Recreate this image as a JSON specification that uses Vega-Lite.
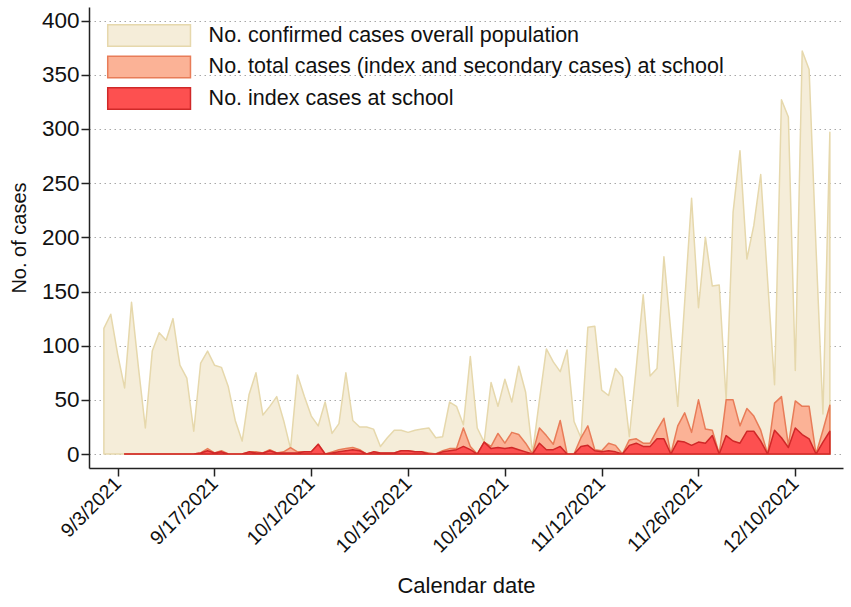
{
  "$schema": "https://vega.github.io/schema/vega-lite/v6.json",
  "width": 754,
  "height": 461,
  "autosize": "none",
  "padding": {"left": 89, "top": 7, "right": 8, "bottom": 139},
  "background": "white",
  "config": {
    "font": "Liberation Sans",
    "view": {"stroke": null},
    "legend": {
      "orient": "none",
      "legendX": 48.6,
      "legendY": 17,
      "padding": 0,
      "title": null,
      "symbolType": "M-3.85,-1H3.85V1H-3.85Z",
      "symbolSize": 462,
      "symbolStrokeWidth": 1.5,
      "symbolOpacity": 1,
      "labelOffset": 48,
      "labelFontSize": 21.5,
      "labelColor": "#111111",
      "labelLimit": 0,
      "rowPadding": 2.5
    }
  },
  "data": {
    "values": [
      {"date": "2021-09-01", "overall": 116, "total": null, "index": null},
      {"date": "2021-09-02", "overall": 129, "total": null, "index": null},
      {"date": "2021-09-03", "overall": 92, "total": null, "index": null},
      {"date": "2021-09-04", "overall": 61, "total": 0, "index": 0},
      {"date": "2021-09-05", "overall": 140, "total": 0, "index": 0},
      {"date": "2021-09-06", "overall": 80, "total": 0, "index": 0},
      {"date": "2021-09-07", "overall": 24, "total": 0, "index": 0},
      {"date": "2021-09-08", "overall": 95, "total": 0, "index": 0},
      {"date": "2021-09-09", "overall": 112, "total": 0, "index": 0},
      {"date": "2021-09-10", "overall": 105, "total": 0, "index": 0},
      {"date": "2021-09-11", "overall": 125, "total": 0, "index": 0},
      {"date": "2021-09-12", "overall": 82, "total": 0, "index": 0},
      {"date": "2021-09-13", "overall": 70, "total": 0, "index": 0},
      {"date": "2021-09-14", "overall": 21, "total": 0, "index": 0},
      {"date": "2021-09-15", "overall": 84, "total": 1, "index": 1},
      {"date": "2021-09-16", "overall": 95, "total": 5, "index": 3},
      {"date": "2021-09-17", "overall": 82, "total": 1, "index": 1},
      {"date": "2021-09-18", "overall": 80, "total": 3, "index": 2},
      {"date": "2021-09-19", "overall": 62, "total": 0, "index": 0},
      {"date": "2021-09-20", "overall": 31, "total": 0, "index": 0},
      {"date": "2021-09-21", "overall": 12, "total": 0, "index": 0},
      {"date": "2021-09-22", "overall": 55, "total": 2, "index": 2},
      {"date": "2021-09-23", "overall": 75, "total": 2, "index": 1},
      {"date": "2021-09-24", "overall": 36, "total": 1, "index": 1},
      {"date": "2021-09-25", "overall": 44, "total": 4, "index": 3},
      {"date": "2021-09-26", "overall": 53, "total": 1, "index": 1},
      {"date": "2021-09-27", "overall": 31, "total": 2, "index": 1},
      {"date": "2021-09-28", "overall": 5, "total": 6, "index": 1},
      {"date": "2021-09-29", "overall": 73, "total": 2, "index": 1},
      {"date": "2021-09-30", "overall": 53, "total": 2, "index": 2},
      {"date": "2021-10-01", "overall": 35, "total": 2, "index": 2},
      {"date": "2021-10-02", "overall": 26, "total": 9, "index": 9},
      {"date": "2021-10-03", "overall": 48, "total": 0, "index": 0},
      {"date": "2021-10-04", "overall": 19, "total": 2, "index": 1},
      {"date": "2021-10-05", "overall": 28, "total": 4, "index": 2},
      {"date": "2021-10-06", "overall": 75, "total": 5, "index": 3},
      {"date": "2021-10-07", "overall": 31, "total": 6, "index": 4},
      {"date": "2021-10-08", "overall": 25, "total": 4, "index": 3},
      {"date": "2021-10-09", "overall": 25, "total": 0, "index": 0},
      {"date": "2021-10-10", "overall": 23, "total": 2, "index": 2},
      {"date": "2021-10-11", "overall": 7, "total": 1, "index": 1},
      {"date": "2021-10-12", "overall": 15, "total": 1, "index": 1},
      {"date": "2021-10-13", "overall": 22, "total": 1, "index": 1},
      {"date": "2021-10-14", "overall": 22, "total": 3, "index": 3},
      {"date": "2021-10-15", "overall": 20, "total": 3, "index": 3},
      {"date": "2021-10-16", "overall": 22, "total": 2, "index": 2},
      {"date": "2021-10-17", "overall": 23, "total": 2, "index": 2},
      {"date": "2021-10-18", "overall": 24, "total": 1, "index": 0},
      {"date": "2021-10-19", "overall": 15, "total": 0, "index": 0},
      {"date": "2021-10-20", "overall": 16, "total": 3, "index": 2},
      {"date": "2021-10-21", "overall": 48, "total": 5, "index": 3},
      {"date": "2021-10-22", "overall": 44, "total": 5, "index": 4},
      {"date": "2021-10-23", "overall": 27, "total": 24, "index": 7},
      {"date": "2021-10-24", "overall": 90, "total": 7, "index": 4},
      {"date": "2021-10-25", "overall": 24, "total": 0, "index": 0},
      {"date": "2021-10-26", "overall": 11, "total": 11, "index": 11},
      {"date": "2021-10-27", "overall": 66, "total": 7, "index": 5},
      {"date": "2021-10-28", "overall": 44, "total": 19, "index": 6},
      {"date": "2021-10-29", "overall": 69, "total": 10, "index": 5},
      {"date": "2021-10-30", "overall": 48, "total": 20, "index": 6},
      {"date": "2021-10-31", "overall": 81, "total": 18, "index": 4},
      {"date": "2021-11-01", "overall": 57, "total": 10, "index": 2},
      {"date": "2021-11-02", "overall": 1, "total": 0, "index": 0},
      {"date": "2021-11-03", "overall": 50, "total": 24, "index": 10},
      {"date": "2021-11-04", "overall": 97, "total": 17, "index": 4},
      {"date": "2021-11-05", "overall": 85, "total": 9, "index": 4},
      {"date": "2021-11-06", "overall": 76, "total": 31, "index": 7},
      {"date": "2021-11-07", "overall": 96, "total": 0, "index": 0},
      {"date": "2021-11-08", "overall": 30, "total": 0, "index": 0},
      {"date": "2021-11-09", "overall": 15, "total": 15, "index": 7},
      {"date": "2021-11-10", "overall": 117, "total": 26, "index": 8},
      {"date": "2021-11-11", "overall": 118, "total": 4, "index": 3},
      {"date": "2021-11-12", "overall": 59, "total": 3, "index": 2},
      {"date": "2021-11-13", "overall": 54, "total": 10, "index": 3},
      {"date": "2021-11-14", "overall": 79, "total": 8, "index": 2},
      {"date": "2021-11-15", "overall": 71, "total": 0, "index": 0},
      {"date": "2021-11-16", "overall": 16, "total": 13, "index": 8},
      {"date": "2021-11-17", "overall": 80, "total": 14, "index": 10},
      {"date": "2021-11-18", "overall": 147, "total": 10, "index": 7},
      {"date": "2021-11-19", "overall": 72, "total": 10, "index": 7},
      {"date": "2021-11-20", "overall": 79, "total": 22, "index": 14},
      {"date": "2021-11-21", "overall": 182, "total": 33, "index": 14},
      {"date": "2021-11-22", "overall": 113, "total": 0, "index": 0},
      {"date": "2021-11-23", "overall": 44, "total": 26, "index": 12},
      {"date": "2021-11-24", "overall": 140, "total": 38, "index": 11},
      {"date": "2021-11-25", "overall": 236, "total": 20, "index": 8},
      {"date": "2021-11-26", "overall": 135, "total": 50, "index": 11},
      {"date": "2021-11-27", "overall": 200, "total": 23, "index": 10},
      {"date": "2021-11-28", "overall": 155, "total": 22, "index": 17},
      {"date": "2021-11-29", "overall": 156, "total": 0, "index": 0},
      {"date": "2021-11-30", "overall": 50, "total": 50, "index": 17},
      {"date": "2021-12-01", "overall": 223, "total": 50, "index": 12},
      {"date": "2021-12-02", "overall": 280, "total": 26, "index": 10},
      {"date": "2021-12-03", "overall": 180, "total": 42, "index": 21},
      {"date": "2021-12-04", "overall": 211, "total": 35, "index": 21},
      {"date": "2021-12-05", "overall": 258, "total": 22, "index": 12},
      {"date": "2021-12-06", "overall": 160, "total": 0, "index": 0},
      {"date": "2021-12-07", "overall": 64, "total": 47, "index": 22},
      {"date": "2021-12-08", "overall": 327, "total": 53, "index": 15},
      {"date": "2021-12-09", "overall": 311, "total": 8, "index": 6},
      {"date": "2021-12-10", "overall": 77, "total": 49, "index": 24},
      {"date": "2021-12-11", "overall": 372, "total": 44, "index": 18},
      {"date": "2021-12-12", "overall": 355, "total": 44, "index": 14},
      {"date": "2021-12-13", "overall": 190, "total": 0, "index": 0},
      {"date": "2021-12-14", "overall": 37, "total": 22, "index": 11},
      {"date": "2021-12-15", "overall": 297, "total": 45, "index": 21}
    ]
  },
  "encoding": {
    "x": {
      "field": "date",
      "type": "temporal",
      "scale": {
        "type": "utc",
        "domain": [
          {"year": 2021, "month": 8, "date": 29, "hours": 20, "minutes": 24, "utc": true},
          {"year": 2021, "month": 12, "date": 16, "hours": 21, "minutes": 36, "utc": true}
        ]
      },
      "axis": {
        "title": "Calendar date",
        "values": [
          {"year": 2021, "month": 9, "date": 3, "utc": true},
          {"year": 2021, "month": 9, "date": 17, "utc": true},
          {"year": 2021, "month": 10, "date": 1, "utc": true},
          {"year": 2021, "month": 10, "date": 15, "utc": true},
          {"year": 2021, "month": 10, "date": 29, "utc": true},
          {"year": 2021, "month": 11, "date": 12, "utc": true},
          {"year": 2021, "month": 11, "date": 26, "utc": true},
          {"year": 2021, "month": 12, "date": 10, "utc": true}
        ],
        "format": "%-m/%-d/%Y",
        "labelAngle": -45,
        "labelAlign": "right",
        "labelBaseline": "middle",
        "labelPadding": 4,
        "labelFontSize": 19.5,
        "labelColor": "#111111",
        "labelOverlap": false,
        "labelFlush": false,
        "grid": false,
        "tickSize": 8,
        "tickWidth": 1.5,
        "tickColor": "#222222",
        "domainColor": "#222222",
        "domainWidth": 1.5,
        "titleFontSize": 22,
        "titleFontWeight": "normal",
        "titleColor": "#111111",
        "titlePadding": 20
      }
    }
  },
  "layer": [
    {
      "mark": {"type": "area", "strokeWidth": 1.5, "strokeJoin": "round"},
      "encoding": {
        "y": {
          "field": "overall",
          "type": "quantitative",
          "scale": {"domain": [-12.9, 412.6], "nice": false, "zero": false},
          "axis": {
            "title": "No. of cases",
            "values": [0, 50, 100, 150, 200, 250, 300, 350, 400],
            "grid": true,
            "gridDash": [1.5, 3.5],
            "gridColor": "#a8a8a8",
            "gridWidth": 1,
            "labelFontSize": 22.5,
            "labelPadding": 2,
            "labelColor": "#111111",
            "tickSize": 8,
            "tickWidth": 1.5,
            "tickColor": "#222222",
            "domainColor": "#222222",
            "domainWidth": 1.5,
            "titleFontSize": 20,
            "titleFontWeight": "normal",
            "titleColor": "#111111",
            "titlePadding": 12
          }
        },
        "y2": {"datum": 0},
        "fill": {
          "datum": "No. confirmed cases overall population",
          "scale": {
            "domain": ["No. confirmed cases overall population", "No. total cases (index and secondary cases) at school", "No. index cases at school"],
            "range": ["#f5edd9", "#fbb296", "#fd5050"]
          }
        },
        "stroke": {
          "datum": "No. confirmed cases overall population",
          "scale": {
            "domain": ["No. confirmed cases overall population", "No. total cases (index and secondary cases) at school", "No. index cases at school"],
            "range": ["#e6d8ac", "#e87c58", "#d02828"]
          }
        }
      }
    },
    {
      "mark": {"type": "area", "strokeWidth": 1.5, "strokeJoin": "round"},
      "encoding": {
        "y": {"field": "total", "type": "quantitative"},
        "y2": {"datum": 0},
        "fill": {"datum": "No. total cases (index and secondary cases) at school"},
        "stroke": {"datum": "No. total cases (index and secondary cases) at school"}
      }
    },
    {
      "mark": {"type": "area", "strokeWidth": 1.5, "strokeJoin": "round"},
      "encoding": {
        "y": {"field": "index", "type": "quantitative"},
        "y2": {"datum": 0},
        "fill": {"datum": "No. index cases at school"},
        "stroke": {"datum": "No. index cases at school"}
      }
    }
  ]
}
